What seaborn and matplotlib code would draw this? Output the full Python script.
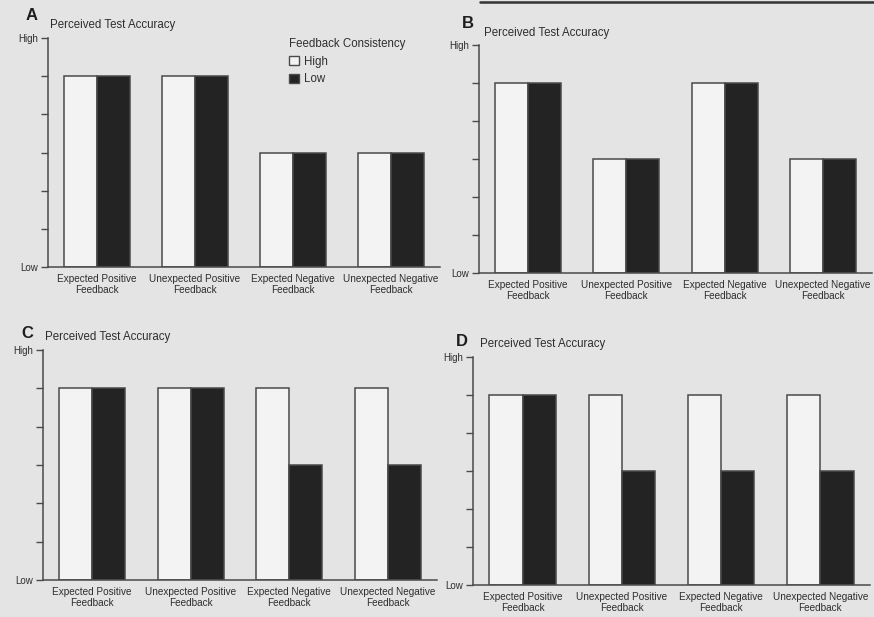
import matplotlib
matplotlib.use("Agg")
import matplotlib.pyplot as plt
import matplotlib.patches as mpatches
import seaborn as sns
import pandas as pd

# Category labels shared by all four panels
categories = [
    "Expected Positive\nFeedback",
    "Unexpected Positive\nFeedback",
    "Expected Negative\nFeedback",
    "Unexpected Negative\nFeedback",
]
consistency_levels = ["High", "Low"]

# Perceived test accuracy on a 0 (Low) .. 6 (High) scale
a_high = [5, 5, 3, 3]
a_low = [5, 5, 3, 3]
b_high = [5, 3, 5, 3]
b_low = [5, 3, 5, 3]
c_high = [5, 5, 5, 5]
c_low = [5, 5, 3, 3]
d_high = [5, 5, 5, 5]
d_low = [5, 3, 3, 3]

panel_letters = ["A", "B", "C", "D"]
panel_title = "Perceived Test Accuracy"

sns.set_theme(style="white")
plt.rcParams["font.family"] = ["Liberation Sans", "DejaVu Sans"]

W, H = 874, 617
BG = "#e4e4e4"
INK = "#2e2e2e"
EDGE = "#4a4a4a"
palette = {"High": "#f3f3f3", "Low": "#232323"}

fig = plt.figure(figsize=(W / 100, H / 100), dpi=100, facecolor=BG)


def px_axes(left, right, top, bottom):
    return fig.add_axes([left / W, 1 - bottom / H, (right - left) / W, (bottom - top) / H])


# axes extents in pixels: (left, right, top=High, bottom=Low)
layout = {
    "A": (48, 440, 38, 267),
    "B": (479, 872, 45, 273),
    "C": (43, 437, 350, 580),
    "D": (473, 870, 357, 585),
}
# letter and title anchor positions in pixels
label_pos = {
    "A": ((26, 16), (50, 25)),
    "B": ((462, 24), (484, 33)),
    "C": ((21, 334), (45, 337)),
    "D": ((456, 341), (480, 344)),
}
panel_data = {
    "A": (a_high, a_low),
    "B": (b_high, b_low),
    "C": (c_high, c_low),
    "D": (d_high, d_low),
}

for letter in panel_letters:
    high, low = panel_data[letter]
    df = pd.DataFrame({
        "category": categories * 2,
        "consistency": ["High"] * len(categories) + ["Low"] * len(categories),
        "accuracy": high + low,
    })
    ax = px_axes(*layout[letter])
    ax.set_facecolor("none")
    sns.barplot(
        data=df, x="category", y="accuracy", hue="consistency",
        order=categories, hue_order=consistency_levels, palette=palette,
        width=0.67, gap=0, edgecolor=EDGE, linewidth=1.1,
        errorbar=None, legend=False, ax=ax,
    )
    ax.set_xlim(-0.5, 3.5)
    ax.set_ylim(0, 6)
    ax.set_xlabel("")
    ax.set_ylabel("")
    for side in ("top", "right"):
        ax.spines[side].set_visible(False)
    for side in ("left", "bottom"):
        ax.spines[side].set_color(EDGE)
        ax.spines[side].set_linewidth(1.1)
    ax.set_yticks(range(0, 7))
    ax.set_yticklabels(["Low", "", "", "", "", "", "High"])
    ax.tick_params(axis="y", direction="out", length=5, width=1.0, color=EDGE,
                   labelsize=7, labelcolor=INK, pad=2, left=True)
    ax.tick_params(axis="x", length=0, labelsize=7.2, labelcolor=INK, pad=5)
    for t in ax.get_xticklabels():
        t.set_linespacing(1.1)

    (lx, ly), (tx, ty) = label_pos[letter]
    fig.text(lx / W, 1 - ly / H, letter, fontsize=12, fontweight="bold",
             color="#1e1e1e", ha="left", va="center")
    fig.text(tx / W, 1 - ty / H, panel_title, fontsize=8.3, color=INK,
             ha="left", va="center")

    if letter == "A":
        handles = [mpatches.Patch(facecolor=palette[k], edgecolor=EDGE, linewidth=1.0, label=k)
                   for k in consistency_levels]
        leg = ax.legend(
            handles=handles, title="Feedback Consistency", loc="upper left",
            bbox_to_anchor=(283 / W, 1 - 32 / H), bbox_transform=fig.transFigure,
            frameon=False, fontsize=8.3, title_fontsize=8.3, handlelength=0.9,
            handleheight=0.8, handletextpad=0.4, labelspacing=0.5, borderpad=0,
            alignment="left",
        )
        leg.get_title().set_color(INK)
        for t in leg.get_texts():
            t.set_color(INK)

# rule along the top edge of the page
fig.add_artist(plt.Line2D([480 / W, 1.0], [1 - 2 / H, 1 - 2 / H],
                          transform=fig.transFigure, color="#333333", linewidth=1.8))

fig.savefig("out.png", dpi=100, facecolor=BG)
